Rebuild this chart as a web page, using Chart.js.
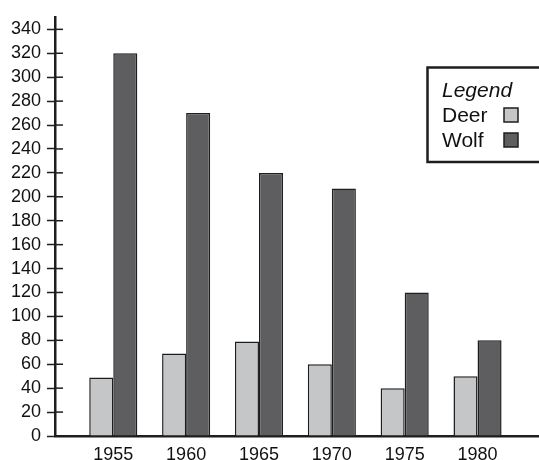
<!DOCTYPE html>
<html>
<head>
<meta charset="utf-8">
<script src="https://cdn.jsdelivr.net/npm/chart.js@4/dist/chart.umd.min.js"></script>
<style>
  html, body { margin: 0; padding: 0; background: #fff; }
  #wrap { width: 539px; height: 460px; }
</style>
</head>
<body>
<div id="wrap"><canvas id="c"></canvas></div>
<script>
// Population counts by year
const years = ['1955', '1960', '1965', '1970', '1975', '1980'];
const deer = [49, 69, 79, 60, 40, 50];
const wolf = [320, 270, 220, 207, 120, 80];
const yTicks = [0, 20, 40, 60, 80, 100, 120, 140, 160, 180, 200, 220, 240, 260, 280, 300, 320, 340];

const FONT = '"Liberation Sans", Arial, Helvetica, sans-serif';
const INK = '#1e1e1e';

// Short tick marks on the inner side of the value axis (ticks cross the axis line)
const innerTicks = {
  id: 'innerTicks',
  afterDatasetsDraw(chart) {
    const y = chart.scales.y;
    const left = chart.chartArea.left;
    const ctx = chart.ctx;
    ctx.save();
    ctx.strokeStyle = INK;
    ctx.lineWidth = 1.5;
    y.ticks.forEach(t => {
      const py = y.getPixelForValue(t.value);
      ctx.beginPath();
      ctx.moveTo(left, py);
      ctx.lineTo(left + 8, py);
      ctx.stroke();
    });
    ctx.restore();
  }
};

// Framed key in the upper right: title, then label with swatch to its right
const boxedLegend = {
  id: 'boxedLegend',
  afterDraw(chart) {
    const ctx = chart.ctx;
    ctx.save();
    ctx.strokeStyle = INK;
    ctx.lineWidth = 2.5;
    ctx.strokeRect(427.5, 67.5, 130, 94.5);
    ctx.fillStyle = '#111';
    ctx.textBaseline = 'alphabetic';
    ctx.textAlign = 'left';
    ctx.font = 'italic 21px ' + FONT;
    ctx.fillText('Legend', 442, 97);
    ctx.font = '21px ' + FONT;
    chart.data.datasets.forEach((ds, i) => {
      const base = 122 + i * 25;
      ctx.fillStyle = '#111';
      ctx.fillText(ds.label, 442, base);
      ctx.fillStyle = ds.backgroundColor;
      ctx.fillRect(504, base - 14, 14, 14);
      ctx.strokeStyle = INK;
      ctx.lineWidth = 1.5;
      ctx.strokeRect(504, base - 14, 14, 14);
    });
    ctx.restore();
  }
};

new Chart(document.getElementById('c'), {
  type: 'bar',
  data: {
    datasets: [
      {
        label: 'Deer',
        data: deer.map((v, i) => ({ x: i, y: v })),
        backgroundColor: '#c5c6c8',
        borderColor: INK,
        borderWidth: 1.5
      },
      {
        label: 'Wolf',
        data: wolf.map((v, i) => ({ x: i, y: v })),
        backgroundColor: '#5e5e60',
        borderColor: INK,
        borderWidth: 1.5
      }
    ]
  },
  options: {
    responsive: true,
    maintainAspectRatio: false,
    animation: false,
    layout: { padding: { top: 12, right: 1, bottom: 0, left: 0 } },
    categoryPercentage: 0.66,
    barPercentage: 1,
    plugins: {
      legend: { display: false },
      tooltip: { enabled: false }
    },
    scales: {
      x: {
        type: 'linear',
        min: -0.8,
        max: 5.83,
        offset: false,
        grid: { display: false, drawTicks: false },
        border: { display: true, color: INK, width: 2.5 },
        afterBuildTicks: axis => { axis.ticks = years.map((_, i) => ({ value: i })); },
        afterFit: axis => { axis.height = 24; },
        ticks: {
          padding: 8,
          color: '#111',
          font: { family: FONT, size: 18 },
          maxRotation: 0,
          callback: v => years[v]
        }
      },
      y: {
        min: 0,
        max: 350.5,
        grid: {
          display: true,
          drawOnChartArea: false,
          drawTicks: true,
          tickLength: 8,
          tickColor: INK,
          tickWidth: 1.5
        },
        border: { display: true, color: INK, width: 2.5 },
        afterBuildTicks: axis => { axis.ticks = yTicks.map(v => ({ value: v })); },
        afterFit: axis => { axis.width = 55; },
        ticks: {
          padding: 6,
          color: '#111',
          font: { family: FONT, size: 18 }
        }
      }
    }
  },
  plugins: [innerTicks, boxedLegend]
});
</script>
</body>
</html>
